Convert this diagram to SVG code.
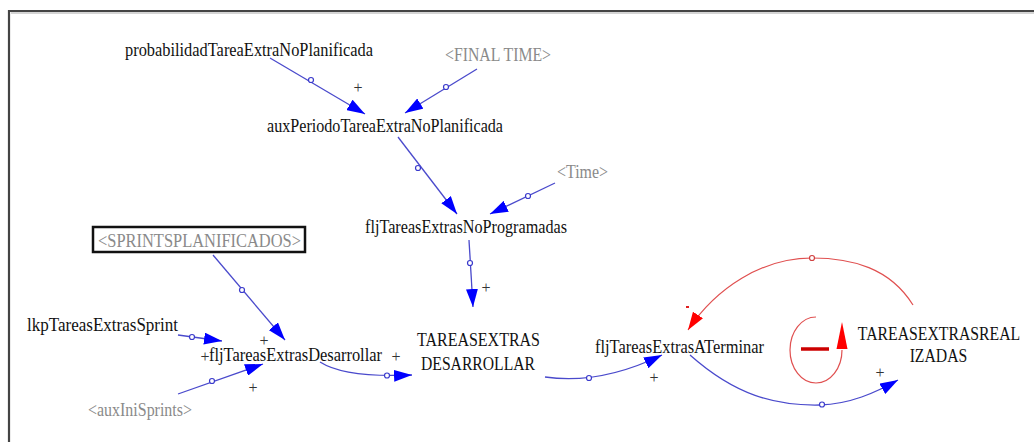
<svg xmlns="http://www.w3.org/2000/svg" width="1034" height="442" viewBox="0 0 1034 442">
  <defs>
    <style>
      text { font-family: 'Liberation Serif', 'DejaVu Serif', 'Times New Roman', serif; }
      .lbl { font-size: 19px; fill: #111; }
      .shadow { fill: #8a8a8a; }
      .sign { font-size: 16px; fill: #333; text-anchor: middle; }
      .link { fill: none; stroke: #4a4acc; stroke-width: 1.3; }
      .link-red { fill: none; stroke: #e05050; stroke-width: 1.2; }
      .hole { fill: #fff; stroke: #3a3acc; stroke-width: 1.2; }
      .hole-red { fill: #fff; stroke: #d04040; stroke-width: 1.2; }
    </style>
    <marker id="tip" markerUnits="userSpaceOnUse" markerWidth="18" markerHeight="12" refX="18" refY="6" orient="auto">
      <path d="M0,0 L18,6 L0,12 z" fill="#0000ff"/>
    </marker>
    <marker id="tip-red" markerUnits="userSpaceOnUse" markerWidth="18" markerHeight="12" refX="18" refY="6" orient="auto">
      <path d="M0,0 L18,6 L0,12 z" fill="#ff0000"/>
    </marker>
  </defs>

  <rect width="1034" height="442" fill="#fff"/>

  <!-- frame: top and left edges -->
  <path d="M1034,11 L9,11 L9,442" fill="none" stroke="#444" stroke-width="2.2"/>
  <path d="M1034,13 L11,13" fill="none" stroke="#aaa" stroke-width="1"/>

  <!-- connectors -->
  <g id="connectors">
    <path class="link" d="M270,58 L365,114" marker-end="url(#tip)"/>
    <circle class="hole" cx="311" cy="80" r="2.5"/>

    <path class="link" d="M477,69 L405,113" marker-end="url(#tip)"/>
    <circle class="hole" cx="446" cy="87" r="2.5"/>

    <path class="link" d="M398,137 L457,214" marker-end="url(#tip)"/>
    <circle class="hole" cx="418" cy="168" r="2.5"/>

    <path class="link" d="M555,183 L490,214" marker-end="url(#tip)"/>
    <circle class="hole" cx="528" cy="196" r="2.5"/>

    <path class="link" d="M469,240 L473,307" marker-end="url(#tip)"/>
    <circle class="hole" cx="470" cy="263" r="2.5"/>

    <path class="link" d="M213,255 L285,340" marker-end="url(#tip)"/>
    <circle class="hole" cx="242" cy="290" r="2.5"/>

    <path class="link" d="M178,335 L222,341" marker-end="url(#tip)"/>
    <circle class="hole" cx="192" cy="337" r="2.5"/>

    <path class="link" d="M178,394 L263,364" marker-end="url(#tip)"/>
    <circle class="hole" cx="212" cy="381" r="2.5"/>

    <path class="link" d="M320,362 Q345,378 412,375" marker-end="url(#tip)"/>
    <circle class="hole" cx="387" cy="375.5" r="2.5"/>

    <path class="link" d="M545,377 Q600,385 662,355" marker-end="url(#tip)"/>
    <circle class="hole" cx="589" cy="378" r="2.5"/>

    <path class="link" d="M690,355 C735,395 775,406 820,405 C850,404 875,393 898,380" marker-end="url(#tip)"/>
    <circle class="hole" cx="822" cy="404.5" r="2.5"/>

    <path class="link-red" d="M913,305 C890,268 852,258 812,258 C762,258 716,288 688,330" marker-end="url(#tip-red)"/>
    <circle class="hole-red" cx="812" cy="258" r="2.5"/>

    <!-- polarity signs -->
    <text class="sign" x="358" y="93">+</text>
    <text class="sign" x="264" y="346">+</text>
    <text class="sign" x="205" y="362">+</text>
    <text class="sign" x="253" y="393">+</text>
    <text class="sign" x="396" y="362">+</text>
    <text class="sign" x="486" y="293">+</text>
    <text class="sign" x="654" y="383">+</text>
    <text class="sign" x="880" y="378">+</text>
    <path d="M686,307 L689,307" stroke="#e02020" stroke-width="2"/>
  </g>

  <!-- balancing loop marker -->
  <g id="loop-balancing">
    <path d="M816,317 A26,33 0 1 0 842,350" fill="none" stroke="#e05050" stroke-width="1.2"/>
    <path d="M842,322 L836.5,349 L847.5,349 z" fill="#ff0000"/>
    <path d="M801,349 L829,349" stroke="#cc0000" stroke-width="3.5"/>
  </g>

  <!-- variables -->
  <g id="probabilidadTareaExtraNoPlanificada">
    <text class="lbl" x="125" y="56" textLength="248" lengthAdjust="spacingAndGlyphs">probabilidadTareaExtraNoPlanificada</text>
  </g>
  <g id="FINAL_TIME">
    <text class="lbl shadow" x="445" y="61" textLength="106" lengthAdjust="spacingAndGlyphs">&lt;FINAL TIME&gt;</text>
  </g>
  <g id="auxPeriodoTareaExtraNoPlanificada">
    <text class="lbl" x="267" y="132" textLength="236" lengthAdjust="spacingAndGlyphs">auxPeriodoTareaExtraNoPlanificada</text>
  </g>
  <g id="Time">
    <text class="lbl shadow" x="557" y="178" textLength="51" lengthAdjust="spacingAndGlyphs">&lt;Time&gt;</text>
  </g>
  <g id="fljTareasExtrasNoProgramadas">
    <text class="lbl" x="365" y="233" textLength="202" lengthAdjust="spacingAndGlyphs">fljTareasExtrasNoProgramadas</text>
  </g>
  <g id="SPRINTSPLANIFICADOS">
    <rect x="93" y="227" width="212" height="25" fill="#fff" stroke="#111" stroke-width="2.5"/>
    <text class="lbl shadow" x="98" y="247" textLength="203" lengthAdjust="spacingAndGlyphs">&lt;SPRINTSPLANIFICADOS&gt;</text>
  </g>
  <g id="lkpTareasExtrasSprint">
    <text class="lbl" x="27" y="331" textLength="151" lengthAdjust="spacingAndGlyphs">lkpTareasExtrasSprint</text>
  </g>
  <g id="fljTareasExtrasDesarrollar">
    <text class="lbl" x="209" y="361" textLength="173" lengthAdjust="spacingAndGlyphs">fljTareasExtrasDesarrollar</text>
  </g>
  <g id="auxIniSprints">
    <text class="lbl shadow" x="88" y="416" textLength="104" lengthAdjust="spacingAndGlyphs">&lt;auxIniSprints&gt;</text>
  </g>
  <g id="TAREASEXTRASDESARROLLAR">
    <text class="lbl" x="417" y="346" textLength="123" lengthAdjust="spacingAndGlyphs">TAREASEXTRAS</text>
    <text class="lbl" x="421" y="370" textLength="114" lengthAdjust="spacingAndGlyphs">DESARROLLAR</text>
  </g>
  <g id="fljTareasExtrasATerminar">
    <text class="lbl" x="595" y="353" textLength="169" lengthAdjust="spacingAndGlyphs">fljTareasExtrasATerminar</text>
  </g>
  <g id="TAREASEXTRASREALIZADAS">
    <text class="lbl" transform="translate(939,340) scale(0.83,1)" x="0" y="0" text-anchor="middle">TAREASEXTRASREAL</text>
    <text class="lbl" transform="translate(938.5,362) scale(0.83,1)" x="0" y="0" text-anchor="middle">IZADAS</text>
  </g>
</svg>
